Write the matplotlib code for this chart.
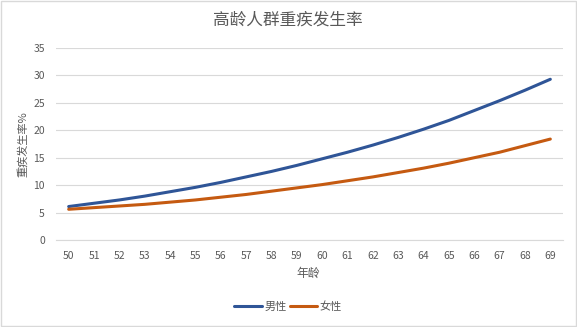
import matplotlib.pyplot as plt
import matplotlib.patches as patches

plt.rcParams['font.family'] = ['Noto Sans CJK SC', 'DejaVu Sans']

# data
ages = list(range(50, 70))
male = [6.1, 6.7, 7.3, 8.0, 8.8, 9.6, 10.5, 11.5, 12.5, 13.6,
        14.8, 16.0, 17.3, 18.7, 20.2, 21.8, 23.6, 25.4, 27.3, 29.3]
female = [5.6, 5.9, 6.2, 6.5, 6.9, 7.3, 7.8, 8.3, 8.9, 9.5,
          10.1, 10.8, 11.5, 12.3, 13.1, 14.0, 15.0, 16.0, 17.2, 18.4]
yticks = [0, 5, 10, 15, 20, 25, 30, 35]

W, H = 577, 327
fig = plt.figure(figsize=(W / 100, H / 100), dpi=100)
# plot area in pixels: left 56, right 563, top 48, bottom 240
ax = fig.add_axes([56 / W, 1 - 240 / H, (563 - 56) / W, (240 - 48) / H])

x = list(range(len(ages)))
ax.plot(x, male, color='#2F5597', linewidth=2.2, label='男性', solid_capstyle='round')
ax.plot(x, female, color='#C55A11', linewidth=2.2, label='女性', solid_capstyle='round')

ax.set_xlim(-0.5, len(ages) - 0.5)
ax.set_ylim(0, 35)
ax.set_xticks(x)
ax.set_xticklabels([str(a) for a in ages])
ax.set_yticks(yticks)
ax.tick_params(axis='both', length=0, labelsize=7.5, colors='#595959')
ax.tick_params(axis='x', pad=8)
ax.tick_params(axis='y', pad=8)
ax.grid(axis='y', color='#D9D9D9', linewidth=0.8)
ax.set_axisbelow(True)
for s in ['top', 'right', 'left']:
    ax.spines[s].set_visible(False)
ax.spines['bottom'].set_color('#D9D9D9')
ax.spines['bottom'].set_linewidth(0.8)

fig.text(288 / W, 1 - 20 / H, '高龄人群重疾发生率', ha='center', va='center',
         fontsize=12, color='#595959')
fig.text(23 / W, 1 - 144 / H, '重疾发生率%', ha='center', va='center',
         rotation=90, fontsize=8, color='#595959')
fig.text(308 / W, 1 - 273 / H, '年龄', ha='center', va='center',
         fontsize=8.5, color='#595959')

fig.legend(loc='center', bbox_to_anchor=(288 / W, 1 - 307 / H), ncol=2,
           frameon=False, fontsize=8, handlelength=2.5, handletextpad=0.2,
           columnspacing=0.3, labelcolor='#595959')

# light frame round the whole chart
fig.patches.append(patches.Rectangle((0.001, 0.003), 0.997, 0.994, transform=fig.transFigure,
                                     fill=False, edgecolor='#D9D9D9', linewidth=1))

fig.savefig('out.png', dpi=100, facecolor='white')
